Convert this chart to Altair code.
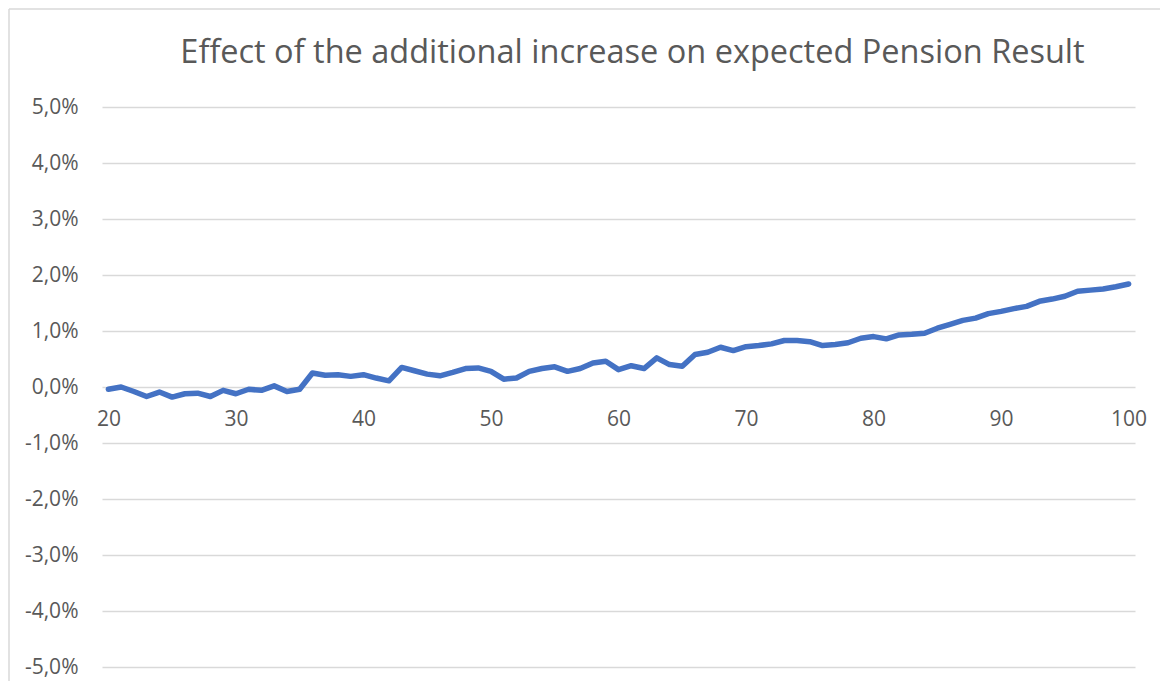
import altair as alt
import pandas as pd

ages = list(range(20, 101))
effect_pct = [
    -0.04, 0.00, -0.08, -0.17, -0.09, -0.18, -0.12, -0.11, -0.17, -0.06,
    -0.12, -0.04, -0.06, 0.02, -0.08, -0.04, 0.25, 0.21, 0.22, 0.19,
    0.22, 0.16, 0.11, 0.35, 0.29, 0.23, 0.20, 0.26, 0.33, 0.34,
    0.28, 0.14, 0.16, 0.28, 0.33, 0.36, 0.28, 0.33, 0.43, 0.46,
    0.31, 0.38, 0.33, 0.52, 0.40, 0.37, 0.58, 0.62, 0.71, 0.65,
    0.72, 0.74, 0.77, 0.83, 0.83, 0.81, 0.74, 0.76, 0.79, 0.87,
    0.90, 0.86, 0.93, 0.94, 0.96, 1.05, 1.12, 1.19, 1.23, 1.31,
    1.35, 1.40, 1.44, 1.53, 1.57, 1.62, 1.71, 1.73, 1.75, 1.79,
    1.84,
]
x_ticks = [20, 30, 40, 50, 60, 70, 80, 90, 100]
y_ticks = [-5, -4, -3, -2, -1, 0, 1, 2, 3, 4, 5]
title_text = "Effect of the additional increase on expected Pension Result"

df = pd.DataFrame({"age": ages, "effect": effect_pct})
frame_df = pd.DataFrame({"frame": [1]})

FONT = "Open Sans"
GREY = "#595959"

x_scale = alt.Scale(domain=[19.5, 100.5], nice=False, zero=False)
y_scale = alt.Scale(domain=[-5, 5], nice=False)

line = alt.Chart(df).mark_line(color="#4472C4", strokeWidth=5.5, strokeJoin="round", strokeCap="round").encode(
    x=alt.X("age:Q", scale=x_scale,
            axis=alt.Axis(values=x_ticks, title=None, grid=False, domain=False, ticks=False,
                          orient="bottom", offset=-280, labelPadding=21, labelBaseline="top",
                          labelFont=FONT, labelFontSize=21, labelColor=GREY, labelFlush=False)),
    y=alt.Y("effect:Q", scale=y_scale,
            axis=alt.Axis(values=y_ticks, title=None, domain=False, ticks=False,
                          gridColor="#D9D9D9", gridWidth=1.5, labelPadding=24,
                          labelFont=FONT, labelFontSize=21, labelColor=GREY,
                          labelExpr="(datum.value < 0 ? '-' : '') + replace(format(abs(datum.value), '.1f'), '.', ',') + '%'")),
)

frame_top = alt.Chart(frame_df).mark_rule(color="#D9D9D9", strokeWidth=1.5).encode(
    x=alt.value(-93), x2=alt.value(1058), y=alt.value(-98)
)
frame_left = alt.Chart(frame_df).mark_rule(color="#D9D9D9", strokeWidth=1.5).encode(
    x=alt.value(-93), y=alt.value(-98), y2=alt.value(574)
)

chart = alt.layer(frame_top, frame_left, line).properties(
    width=1033, height=560,
    title=alt.TitleParams(title_text, font=FONT, fontSize=32.5, fontWeight="normal", color=GREY,
                          anchor="middle", dx=14, offset=-87, baseline="alphabetic"),
    autosize=alt.AutoSizeParams(type="none"),
    padding={"left": 94, "top": 99, "right": 25, "bottom": 14},
).configure_view(stroke=None)

chart.save("out.html", embed_options={"renderer": "svg", "actions": False})
